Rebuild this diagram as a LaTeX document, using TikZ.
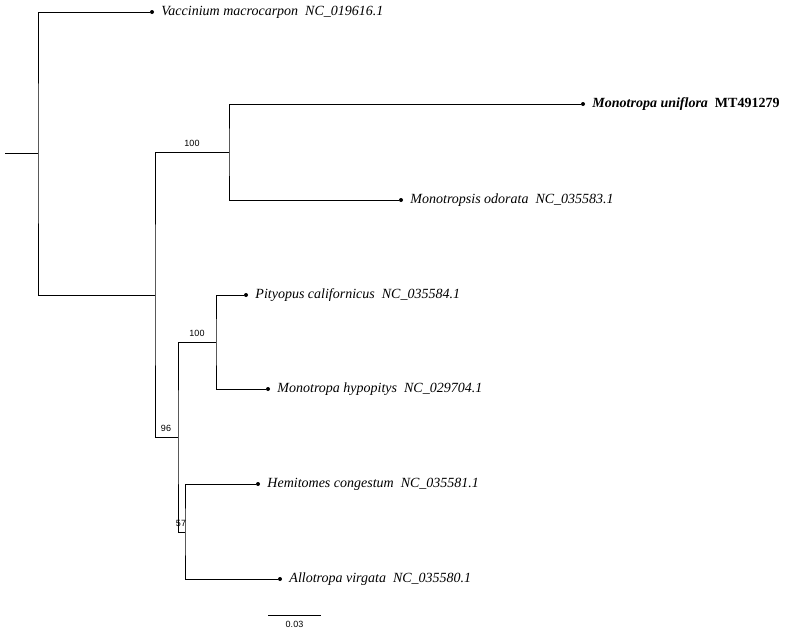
\documentclass[tikz,border=0pt]{standalone}
\usepackage{fontspec}
\setmainfont{Liberation Serif}
\newfontfamily\supfont{Liberation Sans}
\usetikzlibrary{positioning,calc}

\begin{document}
\begin{tikzpicture}[x=1pt, y=-1pt, line width=0.9pt]

		\tikzstyle{taxon}=[right=8pt, font=\fontsize{14}{16}\selectfont\itshape, inner sep=1pt]
		\tikzstyle{support}=[font=\supfont\fontsize{9}{10}\selectfont, inner sep=1pt]
		\tikzstyle{tipdot}=[circle, fill, inner sep=0pt, minimum size=4pt]

		\useasboundingbox (0,0) rectangle (800,635);

		% internal nodes
		\coordinate (root) at (5,153);
		\coordinate (n1) at (38,153);
		\coordinate (n2) at (155,295);
		\coordinate (n3) at (229,152);
		\coordinate (n4) at (178,437);
		\coordinate (n5) at (216,342);
		\coordinate (n6) at (185,532);

		% tips
		\node[tipdot] (t1) at (152,12) {};
		\node[tipdot] (t2) at (583,104) {};
		\node[tipdot] (t3) at (401,200) {};
		\node[tipdot] (t4) at (246,295) {};
		\node[tipdot] (t5) at (268,389) {};
		\node[tipdot] (t6) at (258,484) {};
		\node[tipdot] (t7) at (280,579) {};

		\node[taxon] (l1) at (t1) {Vaccinium macrocarpon\ \ NC\_019616.1};
		\node[taxon, font=\fontsize{14}{16}\selectfont\bfseries\itshape] (l2) at (t2) {Monotropa uniflora\ \ \upshape MT491279};
		\node[taxon] (l3) at (t3) {Monotropsis odorata\ \ NC\_035583.1};
		\node[taxon] (l4) at (t4) {Pityopus californicus\ \ NC\_035584.1};
		\node[taxon] (l5) at (t5) {Monotropa hypopitys\ \ NC\_029704.1};
		\node[taxon] (l6) at (t6) {Hemitomes congestum\ \ NC\_035581.1};
		\node[taxon] (l7) at (t7) {Allotropa virgata\ \ NC\_035580.1};

		% branches
		\draw (root) -- (n1);
		\draw (t1) -| (n1) |- (n2);
		\draw (n3) -| (n2) |- (n4);
		\draw (t2) -| (n3) |- (t3);
		\draw (n5) -| (n4) |- (n6);
		\draw (t4) -| (n5) |- (t5);
		\draw (t6) -| (n6) |- (t7);

		% support values
		\node[support] (s1) at (192,143) {100};
		\node[support] (s2) at (197,333) {100};
		\node[support] (s3) at (166,428) {96};
		\node[support] (s4) at (181,523) {57};

		% scale bar
		\coordinate (sb1) at (268,615);
		\coordinate (sb2) at (321,615);
		\draw (sb1) -- (sb2);
		\node[support, below=5pt] (sbl) at ($(sb1)!0.5!(sb2)$) {0.03};

\end{tikzpicture}
\end{document}
